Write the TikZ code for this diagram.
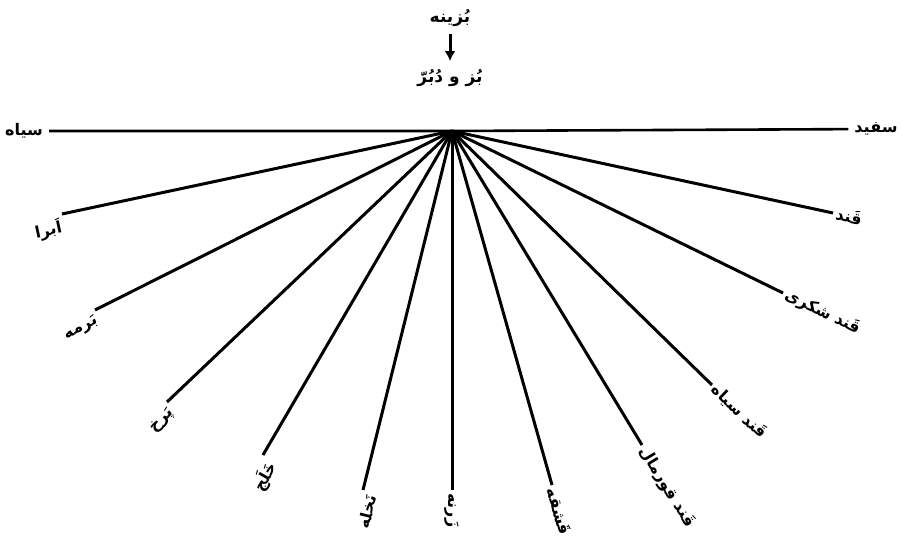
\documentclass[tikz,border=0pt]{standalone}
\usepackage{fontspec}
\newfontfamily\farsi[Script=Arabic]{DejaVu Sans}
\TeXXeTstate=1
\usetikzlibrary{arrows,arrows.meta}
\newcommand{\fa}[1]{\beginR #1\endR}

\begin{document}
\begin{tikzpicture}[x=1pt,y=-1pt,
  ray/.style={line width=3pt},
  lbl/.style={inner sep=3pt, font=\farsi\bfseries\fontsize{16}{18}\selectfont},
  ttl/.style={inner sep=1pt, font=\farsi\bfseries\fontsize{17}{19}\selectfont}]
\useasboundingbox (0,0) rectangle (903,545);

% top of the diagram
\node[ttl] (T1) at (450,18) {\fa{بُزینه}};
\node[ttl] (T2) at (450,78) {\fa{بُز و دُبُرّ}};
\draw[-{Latex[length=10pt,width=11pt]}, line width=3pt, shorten <=6pt, shorten >=7pt] (T1) -- (T2);

% centre of the fan
\coordinate (H) at (452,131);

% horizontal line
\node[lbl, inner sep=6pt] (L0) at (24,131) {\fa{سیاه}};
\node[lbl, inner sep=6pt] (R0) at (876,129) {\fa{سفید}};
\draw[line width=2.6pt] (L0) -- (H) -- (R0);

% right half
\coordinate (R1) at (833,213);
\coordinate (R2) at (783,293);
\coordinate (R3) at (712,385);
\coordinate (R4) at (642,445);
\coordinate (R5) at (552,485);
\coordinate (M) at (452,490);

\draw[ray] (H) -- (R1);
\draw[ray] (H) -- (R2);
\draw[ray] (H) -- (R3);
\draw[ray] (H) -- (R4);
\draw[ray] (H) -- (R5);
\draw[ray] (H) -- (M);

\node[lbl, anchor=west, rotate=-12] (RL1) at (R1) {\fa{قَند}};
\node[lbl, anchor=west, rotate=-26] (RL2) at (R2) {\fa{قَند شکری}};
\node[lbl, anchor=west, rotate=-44] (RL3) at (R3) {\fa{قَند سیاه}};
\node[lbl, anchor=west, rotate=-59] (RL4) at (R4) {\fa{قَند قورمال}};
\node[lbl, anchor=west, rotate=-74] (RL5) at (R5) {\fa{قَشقه}};
\node[lbl, anchor=west, rotate=-90] (ML) at (M) {\fa{زَرنه}};

% left half
\coordinate (L1) at (62,214);
\coordinate (L2) at (95,310);
\coordinate (L3) at (167,402);
\coordinate (L4) at (263,455);
\coordinate (L5) at (363,490);

\draw[ray] (H) -- (L1);
\draw[ray] (H) -- (L2);
\draw[ray] (H) -- (L3);
\draw[ray] (H) -- (L4);
\draw[ray] (H) -- (L5);

\node[lbl, anchor=north east, rotate=12] (LL1) at (L1) {\fa{اَبرا}};
\node[lbl, anchor=north east, rotate=27] (LL2) at (L2) {\fa{بَرمه}};
\node[lbl, anchor=north east, rotate=44] (LL3) at (L3) {\fa{پَرخ}};
\node[lbl, anchor=north east, rotate=60] (LL4) at (L4) {\fa{خَلَج}};
\node[lbl, anchor=north east, rotate=76] (LL5) at (L5) {\fa{نَخله}};

\end{tikzpicture}
\end{document}
